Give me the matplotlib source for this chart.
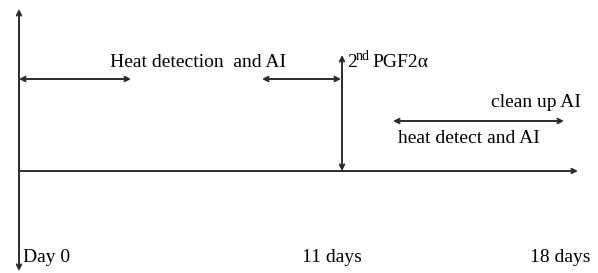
import matplotlib
matplotlib.use("Agg")
import matplotlib.pyplot as plt

# ---- content ----
day_labels = ["Day 0", "11 days", "18 days"]
day_label_x = [23, 302, 530]          # left edge of each day label (px)
phase_texts = ["Heat detection  and AI", "clean up AI", "heat detect and AI"]
phase_x = [110, 581, 398]
phase_y = [67, 107, 143]
phase_ha = ["left", "right", "left"]
pgf_main = "PGF2α"
pgf_ordinal = ("2", "nd")

W, H = 598, 273
fig = plt.figure(figsize=(W / 100, H / 100), dpi=100)
ax = fig.add_axes([0, 0, 1, 1])
ax.set_xlim(0, W)
ax.set_ylim(H, 0)
ax.axis("off")

col = "#2a2a2a"
font = dict(family="Liberation Serif", color="black")

def arrow(x0, y0, x1, y1, style):
    ax.annotate("", xy=(x1, y1), xytext=(x0, y0),
                arrowprops=dict(arrowstyle=style, lw=1.4, color=col,
                                mutation_scale=8, shrinkA=0, shrinkB=0))

# vertical axis (arrows both ends)
arrow(19, 171, 19, 9, "->")
arrow(19, 171, 19, 271, "->")
# horizontal time line
arrow(19, 171, 578, 171, "->")
# heat detection span (broken)
arrow(19, 79, 131, 79, "<->")
arrow(262, 79, 341, 79, "<->")
# 2nd PGF2a marker
arrow(342, 171, 342, 55, "<->")
# heat detect / clean up span
arrow(393, 121, 564, 121, "<->")

fs = 14
for t, x, y, ha in zip(phase_texts, phase_x, phase_y, phase_ha):
    ax.text(x, y, t, fontsize=fs, ha=ha, va="baseline", **font)

ax.text(347, 67, pgf_ordinal[0], fontsize=fs, ha="left", va="baseline", **font)
ax.text(356, 60, pgf_ordinal[1], fontsize=10, ha="left", va="baseline", **font)
ax.text(372, 67, pgf_main, fontsize=fs, ha="left", va="baseline", **font)

for t, x in zip(day_labels, day_label_x):
    ax.text(x, 262, t, fontsize=fs, ha="left", va="baseline", **font)

fig.savefig("out.png", dpi=100, facecolor="white")
